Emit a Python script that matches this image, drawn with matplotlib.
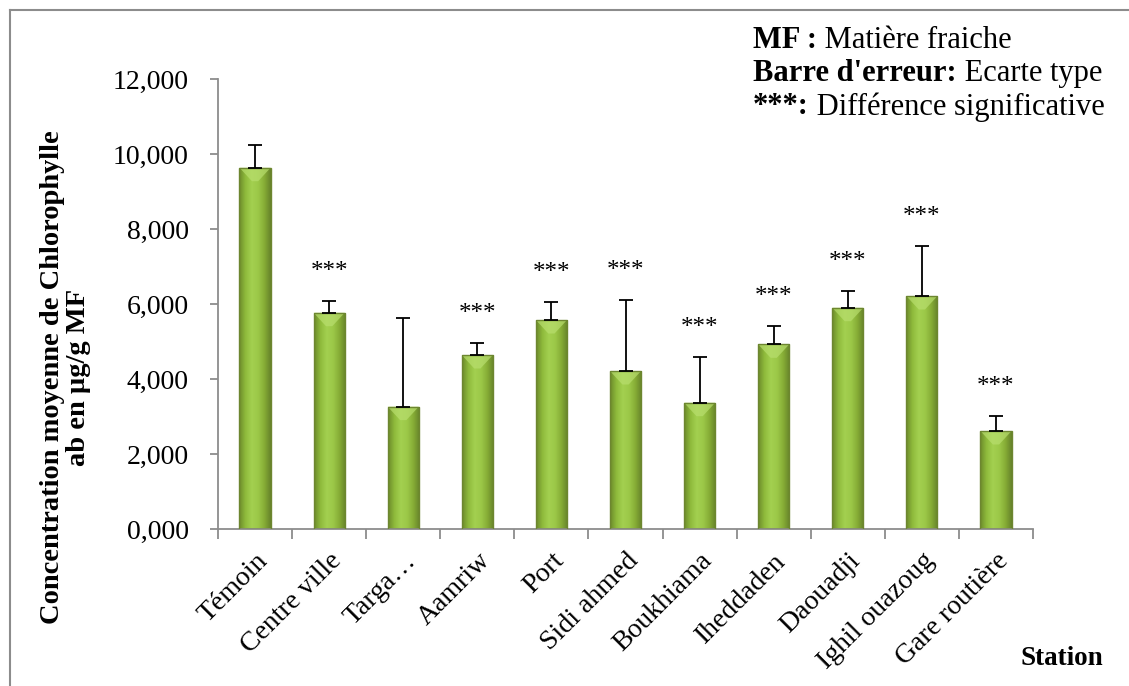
import matplotlib.pyplot as plt
import numpy as np
from matplotlib.patches import Rectangle
from matplotlib.colors import LinearSegmentedColormap
from matplotlib.ticker import FuncFormatter

# concentration moyenne de chlorophylle ab (µg/g MF) par station
stations = ["Témoin", "Centre ville", "Targa…", "Aamriw", "Port", "Sidi ahmed",
            "Boukhiama", "Iheddaden", "Daouadji", "Ighil ouazoug", "Gare routière"]
moyennes = [9.635, 5.768, 3.263, 4.640, 5.573, 4.213, 3.368, 4.925, 5.901, 6.213, 2.613]
ecarts = [0.605, 0.312, 2.356, 0.328, 0.472, 1.893, 1.227, 0.488, 0.454, 1.325, 0.400]
signif = [False, True, False, True, True, True, True, True, True, True, True]

moyennes = np.array(moyennes) * 1000
ecarts = np.array(ecarts) * 1000

plt.rcParams['font.family'] = ['Liberation Serif', 'DejaVu Serif']

fig = plt.figure(figsize=(11.29, 6.86), dpi=100)
ax = fig.add_axes([0.1931, 0.2289, 0.7219, 0.6559])

x = np.arange(len(stations))
largeur = 0.42
ax.set_xlim(-0.5, len(stations) - 0.5)
ax.set_ylim(0, 12000)

# degrade horizontal pour l'effet cylindre des barres
vert = LinearSegmentedColormap.from_list(
    "vert", ["#6c8a2a", "#8fbb3c", "#a3d050", "#9cc848", "#86ad36", "#66832a"])
grad = np.linspace(0, 1, 64).reshape(1, -1)

for xi, m in zip(x, moyennes):
    rect = Rectangle((xi - largeur / 2, 0), largeur, m, facecolor="none",
                     edgecolor="#6d8630", linewidth=1.0, zorder=3)
    ax.add_patch(rect)
    im = ax.imshow(grad, cmap=vert, aspect="auto",
                   extent=(xi - largeur / 2, xi + largeur / 2, 0, m), zorder=2)
    im.set_clip_path(rect)
    # petit biseau clair en haut de la barre
    h = 0.05 * 12000
    ax.fill([xi - largeur / 2, xi + largeur / 2, xi + largeur * 0.1, xi - largeur * 0.1],
            [m, m, m - h * 0.6, m - h * 0.6], color="#b8de6e", alpha=0.7, zorder=2.5,
            linewidth=0)

ax.errorbar(x, moyennes, yerr=[np.zeros(len(x)), ecarts], fmt="none",
            ecolor="black", elinewidth=1.3, capsize=4.7, capthick=1.3, zorder=4)

for xi, m, e, s in zip(x, moyennes, ecarts, signif):
    if s:
        ax.annotate("***", (xi, m + e), xytext=(0, 21), textcoords="offset points",
                    ha="center", va="center", fontsize=18, zorder=5)

ax.spines["top"].set_visible(False)
ax.spines["right"].set_visible(False)
for sp in ("left", "bottom"):
    ax.spines[sp].set_color("#8c8c8c")
    ax.spines[sp].set_linewidth(1.3)

ax.set_yticks(np.arange(0, 12001, 2000))
ax.yaxis.set_major_formatter(FuncFormatter(lambda v, p: "{},000".format(int(v // 1000))))
ax.tick_params(axis="y", length=6, width=1.3, color="#8c8c8c", labelsize=20, pad=15)

# graduations entre les categories, etiquettes au centre
ax.set_xticks(np.arange(-0.5, len(stations), 1.0))
ax.set_xticklabels([])
ax.tick_params(axis="x", which="major", length=7, width=1.3, color="#8c8c8c")
ax.set_xticks(x, minor=True)
ax.set_xticklabels(stations, minor=True, rotation=45, ha="right",
                   rotation_mode="anchor", fontsize=20)
ax.tick_params(axis="x", which="minor", length=0, pad=14)

fig.text(0.058, 0.45, "Concentration moyenne de Chlorophylle\nab en µg/g MF",
         rotation=90, ha="center", va="center", fontsize=20.5, fontweight="bold",
         linespacing=1.1)
fig.text(1020 / 1129, 0.04, "Station", ha="left", va="center", fontsize=19.5,
         fontweight="bold")

# notes en haut a droite
lignes = [("MF :", " Matière fraiche"), ("Barre d'erreur:", " Ecarte type"),
          ("***:", " Différence significative")]
renderer = fig.canvas.get_renderer()
for i, (gras, normal) in enumerate(lignes):
    yy = 1 - (40 + 33.5 * i) / 686
    t = fig.text(753 / 1129, yy, gras, ha="left", va="center", fontsize=22,
                 fontweight="bold")
    bb = t.get_window_extent(renderer)
    fig.text(bb.x1 / fig.bbox.width, yy, normal, ha="left", va="center", fontsize=22)

# cadre gris
fig.add_artist(plt.Line2D([10 / 1129, 10 / 1129], [0, 1 - 10 / 686],
                          color="#8c8c8c", linewidth=1.5))
fig.add_artist(plt.Line2D([10 / 1129, 1], [1 - 10 / 686, 1 - 10 / 686],
                          color="#8c8c8c", linewidth=1.5))

fig.savefig("out.png", dpi=100)
